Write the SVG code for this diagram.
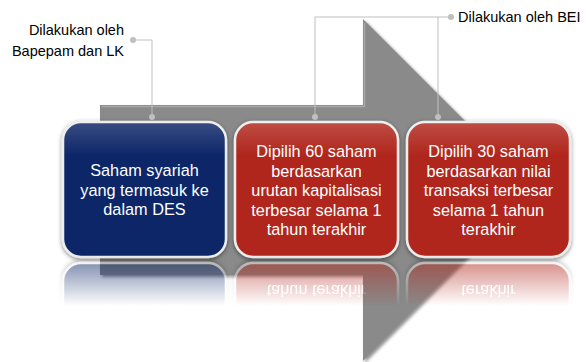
<svg xmlns="http://www.w3.org/2000/svg" xmlns:xlink="http://www.w3.org/1999/xlink" width="586" height="362" viewBox="0 0 586 362">
<defs>
<style>
.box-b{fill:#0B2868;stroke:#EDEDED;stroke-width:2.5}
.box-r{fill:#B0281C;stroke:#EDEDED;stroke-width:2.5}
.bt{font-family:"Liberation Sans",Arial,sans-serif;font-size:16.3px;fill:#FFFFFF;text-anchor:middle}
.ct{font-family:"Liberation Sans",Arial,sans-serif;font-size:14.5px;fill:#000000}
.ln{stroke:#BFBFBF;stroke-width:1;fill:none}
.dot{fill:#BFBFBF}
</style>
<filter id="shadow" x="-10%" y="-10%" width="120%" height="130%">
<feDropShadow dx="0" dy="1.5" stdDeviation="2" flood-color="#000000" flood-opacity="0.45"/>
</filter>
<filter id="ashadow" x="-5%" y="-5%" width="115%" height="115%">
<feDropShadow dx="2" dy="2" stdDeviation="1.5" flood-color="#404040" flood-opacity="0.55"/>
</filter>
<linearGradient id="hl" x1="0" y1="0" x2="0" y2="1">
<stop offset="0" stop-color="#FFFFFF" stop-opacity="0.18"/>
<stop offset="0.25" stop-color="#FFFFFF" stop-opacity="0"/>
</linearGradient>
<linearGradient id="fade" gradientUnits="userSpaceOnUse" x1="0" y1="259" x2="0" y2="306">
<stop offset="0" stop-color="#FFFFFF" stop-opacity="0.55"/>
<stop offset="1" stop-color="#FFFFFF" stop-opacity="0"/>
</linearGradient>
<mask id="refmask" maskUnits="userSpaceOnUse" x="0" y="255" width="586" height="107">
<rect x="0" y="255" width="586" height="107" fill="url(#fade)"/>
</mask>
</defs>
<rect width="586" height="362" fill="#FFFFFF"/>

<g id="arrow">
<path d="M100,105 H363 V19 L534,190 L363,361 V275 H100 Z" fill="#8A8A8A" filter="url(#ashadow)"/>
<path d="M101.5,106.5 H364.5 V23" fill="none" stroke="#A8A8A8" stroke-width="1.5"/>
</g>

<g id="boxes">
<g id="node-des">
<rect class="box-b" x="63" y="122" width="163" height="135" rx="18" filter="url(#shadow)"/>
<rect x="63" y="122" width="163" height="135" rx="18" fill="url(#hl)"/>
<text class="bt" x="144.5" y="176">Saham syariah</text>
<text class="bt" x="144.5" y="195.5">yang termasuk ke</text>
<text class="bt" x="144.5" y="215">dalam DES</text>
</g>
<g id="node-60">
<rect class="box-r" x="235" y="122" width="163" height="135" rx="18" filter="url(#shadow)"/>
<rect x="235" y="122" width="163" height="135" rx="18" fill="url(#hl)"/>
<text class="bt" x="316.5" y="157">Dipilih 60 saham</text>
<text class="bt" x="316.5" y="176.5">berdasarkan</text>
<text class="bt" x="316.5" y="196">urutan kapitalisasi</text>
<text class="bt" x="316.5" y="215.5">terbesar selama 1</text>
<text class="bt" x="316.5" y="235">tahun terakhir</text>
</g>
<g id="node-30">
<rect class="box-r" x="407" y="122" width="163" height="135" rx="18" filter="url(#shadow)"/>
<rect x="407" y="122" width="163" height="135" rx="18" fill="url(#hl)"/>
<text class="bt" x="488.5" y="157">Dipilih 30 saham</text>
<text class="bt" x="488.5" y="176.5">berdasarkan nilai</text>
<text class="bt" x="488.5" y="196">transaksi terbesar</text>
<text class="bt" x="488.5" y="215.5">selama 1 tahun</text>
<text class="bt" x="488.5" y="235">terakhir</text>
</g>
</g>

<g id="reflection" mask="url(#refmask)">
<g transform="translate(0,520) scale(1,-1)">
<use xlink:href="#node-des"/>
<use xlink:href="#node-60"/>
<use xlink:href="#node-30"/>
</g>
</g>

<g id="connectors">
<polyline class="ln" points="133,40 152,40 152,117"/>
<circle class="dot" cx="133" cy="40" r="3"/>
<circle class="dot" cx="152" cy="117" r="3"/>
<polyline class="ln" points="451,17 315,17 315,117"/>
<line class="ln" x1="438" y1="17" x2="438" y2="117"/>
<circle class="dot" cx="451" cy="17" r="3"/>
<circle class="dot" cx="315" cy="117" r="3"/>
<circle class="dot" cx="438" cy="117" r="3"/>
</g>

<g id="label-bapepam">
<text class="ct" x="124" y="35" text-anchor="end">Dilakukan oleh</text>
<text class="ct" x="124" y="56" text-anchor="end">Bapepam dan LK</text>
</g>
<g id="label-bei">
<text class="ct" x="458" y="22">Dilakukan oleh BEI</text>
</g>
</svg>
